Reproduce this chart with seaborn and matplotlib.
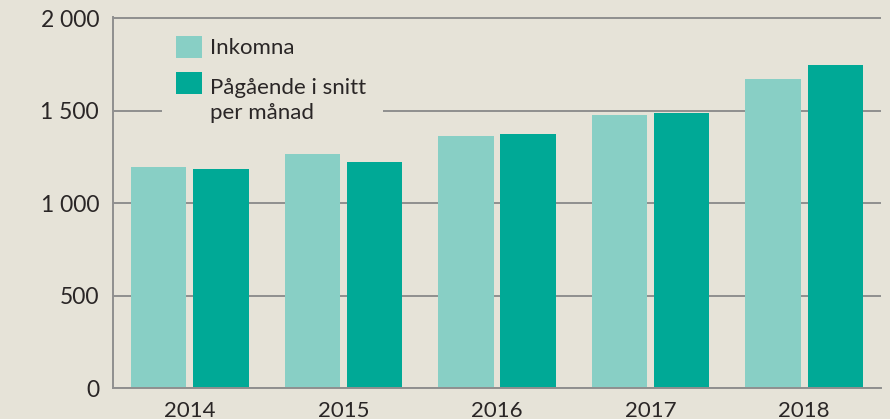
import numpy as np
import pandas as pd
import matplotlib
matplotlib.use("Agg")
import matplotlib.pyplot as plt
import matplotlib.patches as mpatches
from matplotlib.legend_handler import HandlerPatch
from matplotlib.transforms import IdentityTransform
import seaborn as sns

# data
years = ["2014", "2015", "2016", "2017", "2018"]
inkomna = [1195, 1265, 1362, 1476, 1670]
pagaende = [1184, 1222, 1373, 1486, 1746]
series_names = ["Inkomna", "Pågående i snitt\nper månad"]
ytick_vals = [0, 500, 1000, 1500, 2000]
ytick_labels = ["0", "500", "1 000", "1 500", "2 000"]

bg = "#e6e3d8"
light = "#88cfc5"
dark = "#00a996"
grid_col = "#8f8f8f"
text_col = "#2a2626"

df = pd.DataFrame({
    "year": years * 2,
    "serie": [series_names[0]] * len(years) + [series_names[1]] * len(years),
    "value": inkomna + pagaende,
})

sns.set_style("white")
plt.rcParams["font.family"] = ["Lato", "DejaVu Sans"]

fig = plt.figure(figsize=(8.9, 4.19), dpi=100, facecolor=bg)
ax = fig.add_axes([113 / 890, 31 / 419, (881 - 113) / 890, (388 - 16.6) / 419])
ax.set_facecolor(bg)

sns.barplot(data=df, x="year", y="value", hue="serie",
            palette=[light, dark], width=0.81, gap=0.11,
            saturation=1, linewidth=0, ax=ax, zorder=2)

ax.set_xlim(-0.5, 4.5)
ax.set_ylim(0, 2010)
ax.set_xlabel("")
ax.set_ylabel("")

ax.set_yticks(ytick_vals)
ax.set_yticklabels(ytick_labels)
ax.yaxis.grid(True, color=grid_col, linewidth=1.4)
ax.set_axisbelow(True)

ax.set_xticks(np.arange(len(years)) + 0.5, minor=True)
ax.tick_params(axis="x", which="major", length=0, pad=9, labelsize=16, labelcolor=text_col)
ax.tick_params(axis="x", which="minor", direction="in", length=9, width=1.4, color=grid_col)
ax.tick_params(axis="y", length=0, pad=10, labelsize=16.5, labelcolor=text_col)

for side in ["top", "right"]:
    ax.spines[side].set_visible(False)
for side in ["left", "bottom"]:
    ax.spines[side].set_color(grid_col)
    ax.spines[side].set_linewidth(1.4)


# square aligned with the first line of a two-line label
def top_square(legend, orig_handle, xdescent, ydescent, width, height, fontsize):
    return mpatches.Rectangle((-xdescent, -ydescent + 0.8 * fontsize), width, height)


handles, labels = ax.get_legend_handles_labels()
leg = ax.legend(handles, labels, loc="upper left", bbox_to_anchor=(0.0677, 0.979),
                fontsize=16, frameon=False, borderpad=0, handlelength=1.15,
                handleheight=1.15, handletextpad=0.36, labelspacing=0.9,
                labelcolor=text_col,
                handler_map={handles[1]: HandlerPatch(patch_func=top_square)})
for t in leg.get_texts():
    t.set_linespacing(1.3)

# background patch behind the legend that breaks the grid line
fig.canvas.draw()
bb = leg.get_window_extent()
ax.add_patch(mpatches.Rectangle((bb.x0 - 14, bb.y0 - 2), bb.width + 31, bb.height + 4,
                                transform=IdentityTransform(), facecolor=bg,
                                edgecolor="none", zorder=1))

fig.savefig("out.png", dpi=100, facecolor=bg)
